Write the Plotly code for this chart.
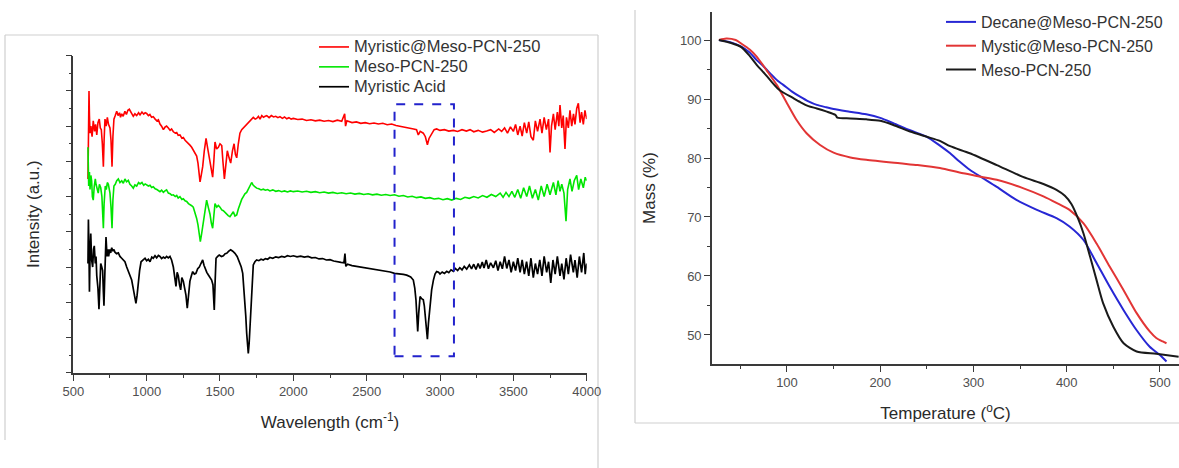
import plotly.graph_objects as go

W, H = 1179, 468

# ---------------- FTIR data (left panel) ----------------
red_wn = [600, 603, 607, 610, 614, 620, 628, 636, 645, 652, 660, 668, 677, 684, 691, 698, 705, 710, 716, 724,
          732, 740, 750, 757, 764, 770, 777, 786, 796, 805, 815, 822, 830, 840, 852, 862, 872, 882, 895, 909,
          920, 932, 945, 955, 968, 980, 990, 1000, 1012, 1022, 1034, 1045, 1058, 1070, 1080, 1091, 1102, 1114,
          1125, 1136, 1148, 1160, 1170, 1182, 1195, 1205, 1215, 1227, 1240, 1250, 1262, 1273, 1285, 1295, 1307,
          1318, 1330, 1341, 1350, 1358, 1364, 1372, 1382, 1393, 1405, 1415, 1427, 1440, 1450, 1458, 1466, 1477,
          1489, 1500, 1512, 1520, 1530, 1540, 1550, 1562, 1573, 1585, 1596, 1605, 1614, 1625, 1636, 1648, 1659,
          1670, 1682, 1693, 1705, 1716, 1727, 1740, 1750, 1762, 1773, 1785, 1796, 1808, 1819, 1835, 1850, 1865,
          1880, 1895, 1909, 1925, 1940, 1955, 1970, 1985, 2000, 2030, 2060, 2090, 2120, 2150, 2180, 2210, 2240,
          2270, 2300, 2330, 2350, 2356, 2365, 2400, 2430, 2460, 2490, 2520, 2550, 2580, 2610, 2640, 2670, 2700,
          2730, 2760, 2790, 2820, 2840, 2852, 2865, 2886, 2900, 2914, 2925, 2943, 2960, 2977, 3000, 3030, 3060,
          3091, 3120, 3150, 3180, 3205, 3230, 3260, 3290, 3318, 3345, 3370, 3400, 3420, 3440, 3460, 3480, 3500,
          3515, 3530, 3546, 3560, 3575, 3591, 3605, 3620, 3636, 3650, 3665, 3682, 3695, 3710, 3725, 3740, 3750,
          3760, 3773, 3785, 3800, 3810, 3818, 3830, 3840, 3852, 3862, 3875, 3886, 3898, 3910, 3920, 3932, 3943,
          3955, 3965, 3977, 3988, 4000]
red_int = [5.5, 7.1, 8.0, 7.3, 6.8, 7.0, 6.7, 7.15, 6.85, 7.05, 6.75, 7.1, 7.2, 6.95, 6.9, 6.5, 5.85, 6.6, 7.2, 7.0,
           7.25, 7.05, 6.95, 6.6, 5.85, 6.7, 7.2, 7.3, 7.42, 7.3, 7.38, 7.25, 7.35, 7.28, 7.42, 7.33, 7.45, 7.48,
           7.36, 7.28, 7.35, 7.3, 7.38, 7.32, 7.4, 7.34, 7.38, 7.36, 7.3, 7.33, 7.25, 7.27, 7.2, 7.15, 7.18, 7.06,
           7.0, 6.9, 6.97, 7.0, 6.95, 6.88, 6.92, 6.84, 6.8, 6.82, 6.74, 6.75, 6.66, 6.68, 6.6, 6.56, 6.5, 6.46,
           6.4, 6.32, 6.25, 6.15, 5.95, 5.7, 5.42, 5.6, 5.85, 6.3, 6.65, 6.4, 6.1, 5.8, 5.55, 6.0, 6.55, 6.35, 6.4,
           6.5, 6.45, 6.0, 5.5, 5.9, 6.3, 6.1, 5.95, 6.3, 6.5, 6.2, 6.1, 6.5, 6.8, 6.9, 6.95, 7.0, 7.05, 7.1, 7.15,
           7.2, 7.25, 7.2, 7.22, 7.28, 7.2, 7.3, 7.25, 7.28, 7.3, 7.24, 7.3, 7.26, 7.28, 7.24, 7.27, 7.22, 7.26,
           7.21, 7.24, 7.2, 7.22, 7.19, 7.2, 7.16, 7.18, 7.15, 7.17, 7.14, 7.16, 7.13, 7.17, 7.14, 7.35, 7.0, 7.15,
           7.1, 7.12, 7.08, 7.1, 7.07, 7.09, 7.06, 7.08, 7.04, 7.06, 7.02, 7.0, 6.98, 6.96, 6.92, 6.9, 6.75, 6.85,
           6.8, 6.7, 6.47, 6.65, 6.8, 6.9, 6.92, 6.88, 6.9, 6.86, 6.88, 6.85, 6.9, 6.86, 6.9, 6.84, 6.88, 6.83,
           6.86, 6.9, 6.82, 6.92, 6.85, 6.95, 6.8, 6.98, 6.85, 7.05, 6.75, 7.0, 6.72, 7.1, 6.8, 7.12, 6.7, 6.6,
           7.15, 6.85, 7.2, 6.8, 7.25, 6.9, 7.2, 6.25, 7.0, 7.35, 6.9, 7.4, 7.0, 7.6, 6.95, 7.3, 6.35, 7.25, 6.95,
           7.45, 7.0, 7.35, 7.05, 7.5, 7.65, 7.1, 7.4, 7.05, 7.45, 7.2]

green_wn = [600, 605, 610, 614, 620, 625, 630, 636, 643, 650, 655, 662, 670, 678, 687, 695, 700, 705, 710, 718,
            725, 732, 739, 745, 750, 757, 764, 770, 777, 786, 796, 807, 818, 830, 841, 852, 863, 875, 886, 898,
            909, 920, 932, 945, 955, 968, 980, 990, 1000, 1012, 1023, 1034, 1045, 1058, 1070, 1080, 1091, 1102,
            1114, 1125, 1136, 1148, 1160, 1170, 1182, 1195, 1205, 1215, 1227, 1240, 1250, 1262, 1273, 1285, 1295,
            1307, 1318, 1330, 1341, 1350, 1358, 1366, 1375, 1386, 1398, 1409, 1420, 1432, 1441, 1450, 1458, 1466,
            1478, 1489, 1500, 1512, 1523, 1534, 1545, 1556, 1568, 1580, 1591, 1602, 1614, 1625, 1636, 1648, 1659,
            1670, 1682, 1693, 1705, 1716, 1727, 1740, 1750, 1765, 1780, 1795, 1810, 1825, 1840, 1860, 1880, 1900,
            1920, 1940, 1960, 1980, 2000, 2030, 2060, 2090, 2120, 2150, 2180, 2210, 2240, 2270, 2300, 2330, 2360,
            2390, 2420, 2450, 2480, 2510, 2540, 2570, 2600, 2630, 2660, 2690, 2720, 2750, 2780, 2810, 2840, 2870,
            2900, 2930, 2960, 2990, 3020, 3050, 3080, 3110, 3140, 3170, 3200, 3230, 3260, 3290, 3320, 3350, 3380,
            3410, 3430, 3450, 3470, 3490, 3510, 3530, 3550, 3570, 3591, 3610, 3630, 3650, 3670, 3690, 3710, 3730,
            3750, 3773, 3790, 3805, 3818, 3830, 3845, 3859, 3870, 3886, 3900, 3915, 3932, 3945, 3960, 3977, 3990,
            4000]
green_int = [6.4, 5.3, 5.7, 5.2, 5.6, 5.45, 5.0, 4.9, 5.3, 5.5, 5.35, 5.2, 5.1, 5.35, 5.25, 5.0, 4.6, 4.1, 4.8,
             5.3, 5.2, 5.4, 5.35, 5.2, 5.1, 4.7, 4.1, 4.9, 5.3, 5.35, 5.45, 5.5, 5.4, 5.45, 5.38, 5.5, 5.42, 5.46,
             5.35, 5.3, 5.24, 5.33, 5.3, 5.4, 5.36, 5.4, 5.32, 5.36, 5.33, 5.3, 5.32, 5.26, 5.28, 5.22, 5.2, 5.16,
             5.14, 5.18, 5.12, 5.16, 5.19, 5.1, 5.08, 5.04, 5.05, 5.0, 5.03, 4.96, 5.0, 4.92, 4.94, 4.88, 4.86, 4.8,
             4.78, 4.74, 4.7, 4.55, 4.38, 4.2, 3.95, 3.72, 3.95, 4.25, 4.6, 4.9, 4.7, 4.5, 4.25, 4.1, 4.45, 4.8, 4.7,
             4.75, 4.7, 4.62, 4.6, 4.55, 4.5, 4.46, 4.43, 4.52, 4.57, 4.45, 4.48, 4.65, 4.8, 4.92, 5.0, 5.08, 5.12,
             5.2, 5.3, 5.4, 5.32, 5.26, 5.24, 5.22, 5.19, 5.21, 5.18, 5.2, 5.16, 5.19, 5.15, 5.17, 5.14, 5.16, 5.13,
             5.16, 5.14, 5.16, 5.13, 5.15, 5.12, 5.14, 5.11, 5.13, 5.1, 5.12, 5.09, 5.11, 5.08, 5.1, 5.07, 5.09,
             5.06, 5.08, 5.05, 5.07, 5.04, 5.06, 5.03, 5.05, 5.01, 5.03, 4.99, 5.01, 4.97, 4.99, 4.95, 4.97, 4.93,
             4.95, 4.91, 4.94, 4.9, 4.95, 4.92, 4.98, 4.95, 5.0, 4.96, 5.03, 4.98, 5.06, 5.0, 5.1, 4.98, 5.12, 5.0,
             5.15, 4.98, 5.2, 4.95, 5.25, 5.0, 5.3, 4.95, 5.2, 4.9, 5.3, 5.0, 5.35, 5.05, 5.4, 5.05, 5.45, 5.15,
             5.35, 5.1, 4.3, 5.2, 5.5, 5.15, 5.45, 5.6, 5.2, 5.5, 5.25, 5.55, 5.45]

black_wn = [600, 603, 607, 610, 614, 619, 625, 632, 638, 643, 650, 655, 660, 668, 675, 680, 687, 694, 700, 705,
            709, 715, 723, 730, 736, 741, 748, 755, 762, 770, 777, 784, 795, 807, 818, 830, 841, 852, 864, 875,
            886, 898, 906, 914, 920, 927, 935, 943, 952, 962, 975, 989, 1000, 1012, 1023, 1035, 1045, 1057, 1068,
            1080, 1091, 1102, 1114, 1125, 1136, 1148, 1159, 1170, 1182, 1190, 1200, 1208, 1216, 1224, 1232, 1240,
            1250, 1259, 1268, 1277, 1285, 1295, 1305, 1314, 1325, 1336, 1348, 1359, 1370, 1382, 1391, 1400, 1410,
            1420, 1432, 1443, 1452, 1461, 1467, 1473, 1484, 1495, 1510, 1523, 1535, 1546, 1560, 1573, 1587, 1602,
            1617, 1632, 1645, 1655, 1664, 1670, 1676, 1682, 1688, 1693, 1699, 1705, 1711, 1716, 1721, 1727, 1738,
            1750, 1765, 1780, 1795, 1810, 1825, 1840, 1860, 1880, 1900, 1920, 1940, 1960, 1980, 2000, 2025, 2050,
            2075, 2100, 2125, 2150, 2175, 2200, 2225, 2250, 2275, 2300, 2325, 2345, 2352, 2358, 2370, 2400, 2430,
            2455, 2480, 2510, 2540, 2568, 2600, 2630, 2660, 2690, 2720, 2750, 2773, 2800, 2818, 2828, 2836, 2842,
            2848, 2855, 2864, 2875, 2886, 2893, 2900, 2907, 2914, 2921, 2932, 2943, 2955, 2966, 2977, 2990, 3000,
            3015, 3030, 3046, 3060, 3075, 3091, 3105, 3120, 3135, 3150, 3165, 3182, 3200, 3215, 3230, 3245, 3260,
            3273, 3288, 3300, 3315, 3330, 3345, 3364, 3380, 3395, 3410, 3425, 3440, 3455, 3470, 3485, 3500, 3515,
            3530, 3546, 3560, 3575, 3590, 3605, 3620, 3636, 3650, 3665, 3680, 3695, 3710, 3727, 3740, 3755, 3770,
            3785, 3800, 3818, 3830, 3845, 3860, 3875, 3890, 3909, 3920, 3935, 3950, 3965, 3980, 3990, 4000]
black_int = [3.1, 4.35, 3.4, 2.3, 3.3, 3.95, 3.2, 3.0, 3.5, 3.6, 3.1, 3.3, 2.75, 2.4, 1.8, 2.6, 3.1, 3.0, 2.9,
             2.3, 1.9, 2.8, 3.85, 3.3, 3.5, 3.3, 3.5, 3.4, 3.55, 3.45, 3.5, 3.42, 3.38, 3.4, 3.3, 3.25, 3.2, 3.15,
             3.0, 2.87, 2.75, 2.63, 2.45, 2.26, 2.1, 1.97, 2.2, 2.55, 2.9, 3.15, 3.2, 3.25, 3.18, 3.22, 3.15, 3.28,
             3.25, 3.32, 3.26, 3.33, 3.3, 3.24, 3.28, 3.25, 3.3, 3.26, 3.3, 3.2, 3.0, 2.7, 2.45, 2.85, 2.75, 2.5,
             2.35, 2.7, 2.6, 2.4, 2.2, 1.83, 2.3, 2.6, 2.75, 2.87, 2.8, 2.82, 2.95, 3.0, 3.1, 3.2, 3.05, 2.92, 2.85,
             2.78, 2.7, 2.63, 2.5, 1.78, 2.6, 3.25, 3.3, 3.34, 3.3, 3.32, 3.38, 3.39, 3.45, 3.49, 3.45, 3.39, 3.3,
             3.15, 3.0, 2.82, 2.4, 2.07, 1.6, 1.12, 0.8, 0.55, 0.85, 1.31, 2.0, 2.54, 2.9, 3.06, 3.15, 3.2, 3.18,
             3.22, 3.2, 3.24, 3.22, 3.27, 3.25, 3.29, 3.27, 3.3, 3.28, 3.32, 3.3, 3.32, 3.29, 3.31, 3.28, 3.3, 3.26,
             3.27, 3.23, 3.24, 3.2, 3.21, 3.17, 3.16, 3.13, 3.12, 3.38, 3.02, 3.08, 3.04, 3.02, 3.0, 2.98, 2.95,
             2.94, 2.91, 2.9, 2.87, 2.86, 2.82, 2.81, 2.79, 2.77, 2.72, 2.63, 2.4, 2.07, 1.6, 1.17, 1.7, 2.16, 2.1,
             2.07, 1.9, 1.59, 1.2, 0.95, 1.4, 1.97, 2.35, 2.63, 2.8, 2.87, 2.85, 2.8, 2.86, 2.82, 2.88, 2.84, 2.92,
             2.88, 2.96, 2.9, 2.98, 2.92, 3.02, 2.94, 3.06, 2.95, 3.08, 2.93, 3.1, 2.96, 3.14, 2.97, 3.2, 2.95,
             3.12, 2.98, 3.18, 2.9, 3.15, 2.95, 3.3, 2.96, 3.2, 2.85, 3.15, 2.9, 3.25, 2.85, 3.2, 2.8, 3.15, 2.75,
             3.25, 2.7, 3.1, 2.8, 3.2, 2.75, 3.3, 2.85, 3.15, 2.55, 3.2, 2.8, 3.3, 2.75, 3.1, 2.65, 3.25, 2.8, 3.35,
             2.85, 3.2, 2.7, 3.3, 2.85, 3.4, 2.8, 3.1]

ftir_names = ["Myristic@Meso-PCN-250", "Meso-PCN-250", "Myristic Acid"]
highlight_wn = [2690, 3095]
highlight_int = [0.47, 7.62]
ftir_xticks = [500, 1000, 1500, 2000, 2500, 3000, 3500, 4000]

# ---------------- TGA data (right panel) ----------------
decane_T = [27, 40, 51, 60, 67.5, 75, 82, 90, 96, 105, 114, 123, 132, 142, 150, 167, 185, 200, 214, 232, 250,
            264, 275, 285, 296, 310, 325, 346, 368, 389, 403, 418, 432, 446, 461, 475, 489, 500, 507]
decane_m = [100.0, 99.6, 98.9, 97.9, 96.6, 95.5, 94.35, 93.1, 92.4, 91.3, 90.4, 89.6, 89.0, 88.6, 88.3, 87.85,
            87.4, 86.8, 85.9, 84.7, 83.6, 82.1, 80.8, 79.4, 78.0, 76.6, 75.1, 72.9, 71.2, 69.8, 68.4, 66.1, 62.2,
            58.2, 54.2, 50.8, 48.0, 46.6, 45.5]

mystic_T = [27, 35, 45, 51, 60, 67.5, 78, 89, 100, 110.5, 121, 135.5, 150, 168, 185, 221, 240, 264, 289, 325,
            353, 375, 389, 403, 418, 432, 446, 461, 475, 489, 496, 503, 507]
mystic_m = [100.0, 100.25, 100.0, 99.4, 98.4, 97.2, 94.9, 92.4, 89.3, 86.4, 84.2, 82.2, 80.9, 80.1, 79.7, 79.1,
            78.8, 78.3, 77.4, 76.3, 74.9, 73.5, 72.4, 71.2, 68.9, 65.5, 61.6, 57.6, 53.7, 50.6, 49.5, 48.9, 48.6]

meso_T = [27, 40, 51, 60, 67.5, 75, 82, 90, 96, 105, 114, 123, 132, 142, 152, 154, 168, 185, 200, 214, 232, 250,
          264, 275, 296, 325, 353, 375, 389, 398, 405, 412, 418, 425, 432, 439, 450, 461, 475, 496, 520]
meso_m = [100.0, 99.5, 98.8, 97.3, 95.8, 94.5, 93.2, 91.8, 91.1, 90.3, 89.5, 88.8, 88.4, 87.9, 87.3, 86.85, 86.7,
          86.55, 86.3, 85.6, 84.5, 83.6, 82.9, 82.0, 80.8, 78.8, 76.8, 75.6, 74.6, 73.6, 72.2, 69.8, 67.2,
          63.3, 59.3, 55.4, 51.4, 48.6, 47.2, 46.8, 46.3]

tga_names = ["Decane@Meso-PCN-250", "Mystic@Meso-PCN-250", "Meso-PCN-250"]
tga_yticks = [50, 60, 70, 80, 90, 100]
tga_xticks = [100, 200, 300, 400, 500]


def px(x):
    return x / W


def py(y):
    return 1 - y / H


FONT = "Liberation Sans, Arial, Helvetica, sans-serif"
AX = "#3a3a3a"
TICKC = "#505050"
TITLE_FONT = dict(family=FONT, size=17, color="#2a2a2a")

fig = go.Figure()

# left legend: compact row spacing (legend font 13) with slightly larger label text
for wn, it, name, col, lw in [(red_wn, red_int, ftir_names[0], "#ff0000", 1.6),
                              (green_wn, green_int, ftir_names[1], "#00e600", 1.6),
                              (black_wn, black_int, ftir_names[2], "#000000", 1.7)]:
    fig.add_trace(go.Scatter(x=wn, y=it, mode="lines",
                             name='<span style="font-size:16.5px">' + name + '</span>',
                             xaxis="x", yaxis="y",
                             line=dict(color=col, width=lw), legend="legend"))

for T, m, name, col in [(decane_T, decane_m, tga_names[0], "#2727d4"),
                        (mystic_T, mystic_m, tga_names[1], "#e23535"),
                        (meso_T, meso_m, tga_names[2], "#1a1a1a")]:
    fig.add_trace(go.Scatter(x=T, y=m, mode="lines", name=name, xaxis="x2", yaxis="y2",
                             line=dict(color=col, width=2, shape="spline", smoothing=0.7),
                             legend="legend2"))

axis_common = dict(showgrid=False, zeroline=False, showline=True, linecolor=AX, linewidth=1.6,
                   ticks="outside", tickcolor=AX, tickwidth=1.3, automargin=False,
                   tickfont=dict(family=FONT, size=13, color=TICKC))

fig.update_layout(
    width=W, height=H,
    margin=dict(l=0, r=0, t=0, b=0, pad=0, autoexpand=False),
    paper_bgcolor="white", plot_bgcolor="white",
    font=dict(family=FONT, size=13, color="#222"),
    xaxis=dict(domain=[px(73.3), px(586.7)], range=[500, 4000], anchor="y",
               tickvals=ftir_xticks, ticklen=6,
               title=dict(text="Wavelength (cm<sup>-1</sup>)", font=TITLE_FONT, standoff=18),
               minor=dict(dtick=250, tick0=500, ticks="outside", ticklen=3, tickcolor=AX),
               **axis_common),
    yaxis=dict(domain=[py(372.7), py(55.7)], range=[0, 9], anchor="x",
               dtick=1, tick0=0, ticklen=6, showticklabels=False,
               title=dict(text="Intensity (a.u.)", font=TITLE_FONT, standoff=22),
               minor=dict(dtick=0.5, tick0=0, ticks="outside", ticklen=3, tickcolor=AX),
               **axis_common),
    xaxis2=dict(domain=[px(712), 1.0], range=[19.6, 520.4], anchor="y2",
                tickvals=tga_xticks, ticklen=6,
                title=dict(text="Temperature (<sup>o</sup>C)", font=TITLE_FONT, standoff=18),
                minor=dict(dtick=50, tick0=0, ticks="outside", ticklen=3, tickcolor=AX),
                **axis_common),
    yaxis2=dict(domain=[py(364), py(12)], range=[45.08, 104.75], anchor="x2",
                tickvals=tga_yticks, ticklen=6,
                title=dict(text="Mass (%)", font=TITLE_FONT, standoff=20),
                minor=dict(dtick=5, tick0=0, ticks="outside", ticklen=3, tickcolor=AX),
                **axis_common),
    legend=dict(x=px(314), y=py(32), xanchor="left", yanchor="top", bgcolor="rgba(0,0,0,0)",
                font=dict(family=FONT, size=13, color="#333")),
    legend2=dict(x=px(941), y=py(5), xanchor="left", yanchor="top", bgcolor="rgba(0,0,0,0)",
                 font=dict(family=FONT, size=16, color="#333")),
    showlegend=True,
)

# highlight box around the C-H stretching region
fig.add_shape(type="rect", xref="x", yref="y", x0=highlight_wn[0], x1=highlight_wn[1],
              y0=highlight_int[0], y1=highlight_int[1],
              line=dict(color="#2222cc", width=2, dash="dash"))

# panel frames (light grey)
frame = dict(color="#cfcfcf", width=1.2)
for x0, y0, x1, y1 in [(5, 35, 598, 35), (598, 35, 598, 468), (5, 35, 5, 440),
                       (635, 10, 635, 423), (635, 423, 1179, 423)]:
    fig.add_shape(type="line", xref="paper", yref="paper", x0=px(x0), y0=py(y0), x1=px(x1), y1=py(y1),
                  line=frame, layer="below")

# remove the browser's default page margin/scrollbars so the figure sits at the window origin
fig.write_html("out.html", config={"displayModeBar": False},
               post_script="document.body.style.margin='0px';"
                           "document.documentElement.style.overflow='hidden';")
